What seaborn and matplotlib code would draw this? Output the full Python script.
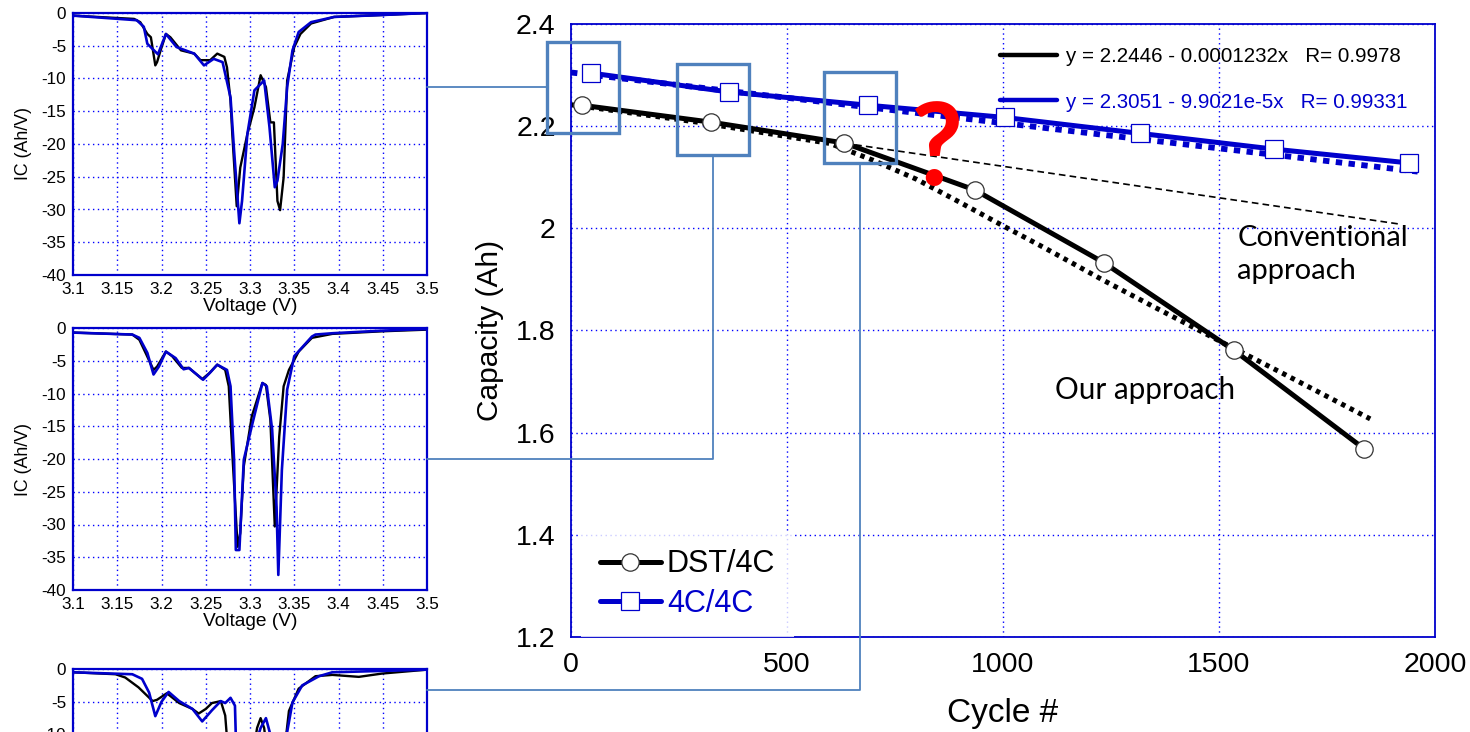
import matplotlib
matplotlib.use("Agg")
import numpy as np
import pandas as pd
import matplotlib.pyplot as plt
import seaborn as sns
from matplotlib.lines import Line2D
from matplotlib.patches import Rectangle
from matplotlib.ticker import FormatStrFormatter

sns.set_theme(style="white")
plt.rcParams['font.family'] = ['Liberation Sans', 'DejaVu Sans']
plt.rcParams['text.color'] = 'black'
plt.rcParams['axes.labelcolor'] = 'black'

BLACK = "black"
BLUE = "#0000cc"
GRID_BLUE = "#0000ff"
FRAME = "#4f81bd"

# ---------------- capacity fade ----------------
dst_cycles = [25, 323, 633, 935, 1233, 1535, 1835]
dst_capacity = [2.241, 2.208, 2.167, 2.075, 1.933, 1.761, 1.569]
c4_cycles = [46, 365, 688, 1005, 1316, 1628, 1940]
c4_capacity = [2.304, 2.267, 2.241, 2.217, 2.186, 2.155, 2.128]

# linear regressions (intercept, slope, R)
dst_fit = (2.2446, -0.0001232, 0.9978)
c4_fit = (2.3051, -9.9021e-5, 0.99331)
dst_fit_range = [633, 1915]
c4_fit_range = [0, 1960]

# IC-based capacity prediction
pred_cycles = [0, 300, 600, 700, 800, 900, 1000, 1100, 1233, 1350, 1500, 1650, 1850]
pred_capacity = [2.242, 2.207, 2.166, 2.133, 2.096, 2.051, 2.005, 1.960, 1.898,
                 1.846, 1.780, 1.715, 1.627]

# ---------------- incremental capacity curves ----------------
ic1_dst_v = [3.100, 3.169, 3.176, 3.184, 3.188, 3.193, 3.195, 3.199, 3.205, 3.210, 3.222,
             3.237, 3.244, 3.255, 3.263, 3.271, 3.274, 3.278, 3.280, 3.285, 3.289, 3.297,
             3.305, 3.308, 3.312, 3.318, 3.323, 3.327, 3.331, 3.334, 3.338, 3.342, 3.350,
             3.357, 3.369, 3.395, 3.450, 3.500]
ic1_dst_ic = [-0.4, -0.9, -1.4, -3.2, -3.7, -8.0, -7.5, -5.7, -3.2, -3.7, -5.7,
              -6.2, -7.2, -7.2, -6.2, -6.7, -8.3, -13.4, -18.5, -29.5, -23.6, -18.5,
              -14.4, -12.3, -9.5, -11.3, -16.7, -16.7, -28.7, -30.1, -25.1, -10.3, -5.2,
              -3.2, -1.6, -0.6, -0.3, 0.0]
ic1_4c_v = [3.100, 3.172, 3.180, 3.184, 3.196, 3.205, 3.217, 3.237, 3.248, 3.259, 3.269,
            3.278, 3.282, 3.288, 3.291, 3.297, 3.305, 3.316, 3.322, 3.328, 3.331, 3.337,
            3.342, 3.348, 3.355, 3.369, 3.395, 3.450, 3.500]
ic1_4c_ic = [-0.4, -1.1, -2.1, -4.7, -6.3, -3.2, -5.2, -6.2, -8.0, -7.0, -7.5,
             -12.9, -21.0, -32.1, -28.7, -18.5, -11.8, -10.3, -17.4, -26.6, -25.6, -20.0,
             -11.3, -5.7, -2.9, -1.4, -0.6, -0.3, 0.0]

ic2_dst_v = [3.100, 3.167, 3.175, 3.182, 3.191, 3.195, 3.205, 3.212, 3.223, 3.231, 3.246,
             3.254, 3.263, 3.272, 3.276, 3.280, 3.286, 3.289, 3.293, 3.302, 3.314, 3.318,
             3.323, 3.328, 3.333, 3.338, 3.344, 3.355, 3.370, 3.393, 3.450, 3.500]
ic2_dst_ic = [-0.7, -1.0, -1.8, -3.8, -6.4, -5.9, -3.6, -4.3, -6.1, -6.1, -7.8,
              -6.9, -5.6, -6.4, -8.9, -19.1, -33.4, -31.3, -21.1, -13.5, -8.4, -8.7,
              -14.0, -30.3, -16.6, -8.9, -6.4, -3.6, -1.5, -0.9, -0.5, -0.25]
ic2_4c_v = [3.100, 3.167, 3.175, 3.184, 3.191, 3.197, 3.205, 3.216, 3.225, 3.231, 3.247,
            3.255, 3.263, 3.274, 3.278, 3.282, 3.284, 3.288, 3.293, 3.302, 3.314, 3.319,
            3.325, 3.330, 3.332, 3.336, 3.342, 3.350, 3.370, 3.374, 3.393, 3.450, 3.500]
ic2_4c_ic = [-0.7, -1.0, -1.5, -3.8, -7.1, -5.9, -3.6, -4.6, -6.3, -6.1, -7.9,
             -6.8, -5.6, -6.4, -8.9, -20.1, -33.9, -33.9, -20.1, -15.0, -8.4, -8.9,
             -15.5, -27.3, -37.7, -21.7, -9.4, -4.3, -1.3, -1.0, -0.8, -0.4, -0.15]

ic3_dst_v = [3.100, 3.148, 3.159, 3.174, 3.190, 3.195, 3.206, 3.220, 3.235, 3.242, 3.250,
             3.257, 3.267, 3.272, 3.276, 3.282, 3.286, 3.292, 3.302, 3.308, 3.312, 3.316,
             3.322, 3.330, 3.334, 3.338, 3.341, 3.344, 3.355, 3.374, 3.393, 3.423, 3.449,
             3.500]
ic3_dst_ic = [-0.5, -0.8, -1.3, -2.8, -4.9, -4.7, -3.7, -5.2, -6.1, -6.8, -6.1,
              -5.2, -4.9, -7.1, -14.0, -28.0, -30.0, -22.0, -14.0, -9.0, -7.5, -9.0,
              -16.0, -28.0, -30.0, -20.0, -10.0, -6.4, -3.0, -1.1, -0.9, -1.2, -0.7,
              -0.1]
ic3_4c_v = [3.100, 3.167, 3.178, 3.186, 3.193, 3.200, 3.208, 3.220, 3.235, 3.246, 3.257,
            3.267, 3.272, 3.278, 3.283, 3.286, 3.290, 3.296, 3.305, 3.312, 3.318, 3.323,
            3.329, 3.334, 3.338, 3.342, 3.348, 3.359, 3.378, 3.393, 3.500]
ic3_4c_ic = [-0.5, -0.8, -1.5, -3.6, -7.2, -5.0, -3.5, -4.9, -6.1, -8.0, -6.3,
             -4.9, -5.2, -4.4, -5.6, -20.0, -31.0, -22.0, -12.0, -9.0, -7.5, -10.0,
             -22.0, -35.0, -22.0, -9.6, -5.1, -2.5, -1.1, -0.5, -0.1]

ic_sets = [
    (ic1_dst_v, ic1_dst_ic, ic1_4c_v, ic1_4c_ic, -11.3),
    (ic2_dst_v, ic2_dst_ic, ic2_4c_v, ic2_4c_ic, -20.0),
    (ic3_dst_v, ic3_dst_ic, ic3_4c_v, ic3_4c_ic, -3.2),
]

# ---------------- figure layout ----------------
fig = plt.figure(figsize=(14.7, 7.32), dpi=100)
W, H = 1470.0, 732.0

ax = fig.add_axes([571 / W, 1 - 637 / H, (1435 - 571) / W, (637 - 24) / H])
panel_tops = [13, 328, 669]
panel_h = 262
panels = []
for top in panel_tops:
    p = fig.add_axes([73 / W, 1 - (top + panel_h) / H, (427 - 73) / W, panel_h / H])
    panels.append(p)

# ---------------- IC panels ----------------
for k, (p, (v1, c1, v2, c2, _)) in enumerate(zip(panels, ic_sets)):
    sns.lineplot(x=v1, y=c1, ax=p, color=BLACK, lw=1.7, estimator=None, sort=False)
    sns.lineplot(x=v2, y=c2, ax=p, color=BLUE, lw=1.9, estimator=None, sort=False)
    p.set_xlim(3.1, 3.5)
    p.set_ylim(-40, 0)
    p.set_xticks(np.round(np.arange(3.1, 3.5001, 0.05), 2))
    p.set_yticks(np.arange(-40, 1, 5))
    p.xaxis.set_major_formatter(FormatStrFormatter('%g'))
    p.yaxis.set_major_formatter(FormatStrFormatter('%g'))
    p.grid(True, color=GRID_BLUE, linestyle=(0, (1, 2.5)), linewidth=1.0)
    for s in p.spines.values():
        s.set_color(BLUE)
        s.set_linewidth(1.6)
    p.tick_params(length=0, labelsize=12.3, pad=5, colors=BLACK)
    if k < 2:
        p.set_xlabel("Voltage (V)", fontsize=13.8, labelpad=1)
        p.set_ylabel("IC (Ah/V)", fontsize=12.8, labelpad=7)
    else:
        # the lower part of this panel runs past the figure edge
        p.tick_params(axis="x", labelbottom=False)
        p.set_yticks(np.arange(-10, 1, 5))
        p.set_ylabel("")

# ---------------- capacity axes ----------------
cap_df = pd.DataFrame({"cycle": dst_cycles, "capacity": dst_capacity})
c4_df = pd.DataFrame({"cycle": c4_cycles, "capacity": c4_capacity})
pred_df = pd.DataFrame({"cycle": pred_cycles, "capacity": pred_capacity})

fx_dst = np.array(dst_fit_range, dtype=float)
fx_c4 = np.array(c4_fit_range, dtype=float)

# conventional linear extrapolation
ax.plot(fx_dst, dst_fit[0] + dst_fit[1] * fx_dst, color=BLACK, lw=1.2,
        linestyle=(0, (4, 2.5)), zorder=2)
# linear fit of the 4C/4C cell
ax.plot(fx_c4, c4_fit[0] + c4_fit[1] * fx_c4, color=BLUE, lw=4.2,
        linestyle=(0, (1.1, 1.1)), zorder=2)
# IC-based prediction
sns.lineplot(data=pred_df, x="cycle", y="capacity", ax=ax, color=BLACK, lw=3.6,
             linestyle=(0, (0.9, 1.0)), zorder=2, estimator=None)

sns.lineplot(data=cap_df, x="cycle", y="capacity", ax=ax, color=BLACK, lw=3.6,
             marker="o", markersize=12.5, markerfacecolor="white",
             markeredgecolor="#333333", markeredgewidth=0.9, zorder=3, estimator=None)
sns.lineplot(data=c4_df, x="cycle", y="capacity", ax=ax, color=BLUE, lw=3.6,
             marker="s", markersize=12.5, markerfacecolor="white",
             markeredgecolor=BLUE, markeredgewidth=0.9, zorder=3, estimator=None)

ax.set_xlim(0, 2000)
ax.set_ylim(1.2, 2.4)
ax.set_xticks([0, 500, 1000, 1500, 2000])
ax.set_yticks([1.2, 1.4, 1.6, 1.8, 2.0, 2.2, 2.4])
ax.yaxis.set_major_formatter(FormatStrFormatter('%g'))
ax.grid(True, color=GRID_BLUE, linestyle=(0, (1, 2.5)), linewidth=1.0)
for s in ax.spines.values():
    s.set_color(BLUE)
    s.set_linewidth(1.3)
ax.tick_params(length=0, labelsize=20.5, pad=11, colors=BLACK)
ax.set_xlabel("Cycle #", fontsize=24, labelpad=14, color=BLACK)
ax.set_ylabel("Capacity (Ah)", fontsize=21.5, labelpad=9, color=BLACK)

# regression legend
fit_handles = [Line2D([], [], color=BLACK, lw=3.2), Line2D([], [], color=BLUE, lw=3.2)]
fit_labels = [
    f"y = {dst_fit[0]} - {-dst_fit[1]:.7f}x   R= {dst_fit[2]}",
    f"y = {c4_fit[0]} - 9.9021e-5x   R= {c4_fit[2]}",
]
leg_fit = ax.legend(fit_handles, fit_labels, loc="upper left",
                    bbox_to_anchor=(0.487, 0.976), borderaxespad=0, frameon=False,
                    fontsize=14.8, handlelength=2.75, handletextpad=0.45,
                    labelspacing=1.3, labelcolor=[BLACK, BLUE])
ax.add_artist(leg_fit)

# series legend
series_handles = [
    Line2D([], [], color=BLACK, lw=3.6, marker="o", markersize=12.5,
           markerfacecolor="white", markeredgecolor="#333333", markeredgewidth=0.9),
    Line2D([], [], color=BLUE, lw=3.6, marker="s", markersize=12.5,
           markerfacecolor="white", markeredgecolor=BLUE, markeredgewidth=0.9),
]
leg = ax.legend(series_handles, ["DST/4C", "4C/4C"], loc="lower left",
                bbox_to_anchor=(0.012, 0.0), borderaxespad=0, frameon=True,
                fontsize=22, handlelength=2.0, handletextpad=0.2,
                labelspacing=0.3, borderpad=0.6, labelcolor=[BLACK, BLUE],
                fancybox=False)
leg.get_frame().set_facecolor("white")
leg.get_frame().set_edgecolor("white")
leg.get_frame().set_linewidth(0)

# text notes
note_font = ["Lato", "DejaVu Sans"]
ax.text(1542, 2.006, "Conventional\napproach", fontsize=21, family=note_font,
        ha="left", va="top", linespacing=1.32, color=BLACK)
ax.text(1120, 1.683, "Our approach", fontsize=21.3, family=note_font,
        ha="left", va="center", color=BLACK)
ax.text(847, 2.150, "?", fontsize=82, fontweight="bold", family=note_font,
        ha="center", va="center", color="#ff0000", zorder=4)

# highlight boxes around the cycles shown in the IC panels
box_centers = [(28, 2.2765), (328, 2.233), (669, 2.2165)]
box_w, box_h = 166, 0.178
for cx, cy in box_centers:
    ax.add_patch(Rectangle((cx - box_w / 2, cy - box_h / 2), box_w, box_h, fill=False,
                           edgecolor=FRAME, lw=2.4, zorder=5, clip_on=False))

fig_inv = fig.transFigure.inverted()


def to_fig(a, x, y):
    return fig_inv.transform(a.transData.transform((x, y)))


for i, (p, (_, _, _, _, ic_level)) in enumerate(zip(panels, ic_sets)):
    start = to_fig(p, 3.5, ic_level)
    cx, cy = box_centers[i]
    if i == 0:
        end = to_fig(ax, cx - box_w / 2, cy)
        xs, ys = [start[0], end[0]], [start[1], start[1]]
    else:
        corner = to_fig(ax, cx, cy - box_h / 2)
        xs, ys = [start[0], corner[0], corner[0]], [start[1], start[1], corner[1]]
    fig.add_artist(Line2D(xs, ys, transform=fig.transFigure, color=FRAME, lw=1.3))

fig.savefig("out.png", dpi=100)
